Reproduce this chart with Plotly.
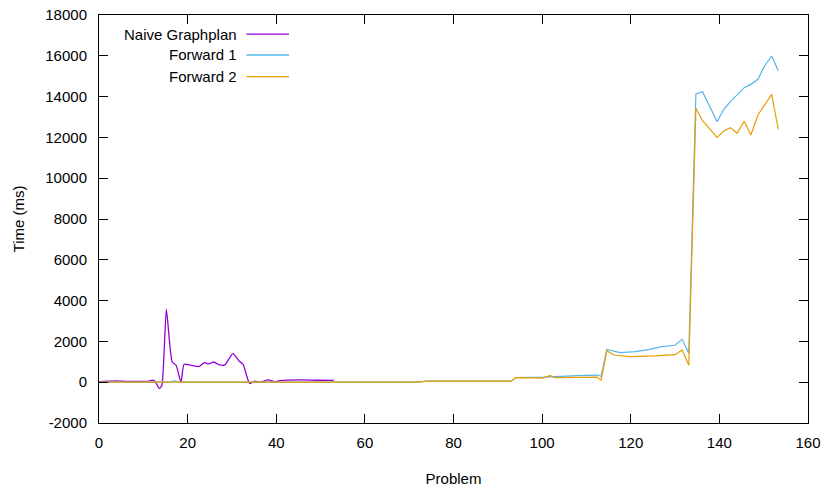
import plotly.graph_objects as go

# ---- data ----
naive_x = [0, 2, 4, 6, 8, 10, 11, 12, 12.6, 13.6, 14.2, 15.2, 16.5, 17.4, 18.5, 19.2, 20.8, 22.6,
           23.8, 24.8, 25.9, 27.2, 28.4, 30.2, 31.6, 32.5, 34.0, 35.2, 36.3, 38.2, 39.7, 40.8,
           45.4, 49, 53]
naive_y = [30, 50, 65, 45, 40, 40, 45, 100, 60, -310, -150, 3570, 990, 830, 0, 880, 830, 770,
           960, 900, 990, 850, 850, 1400, 1040, 880, -70, 50, 0, 110, 30, 80,
           110, 95, 90]

f1_x = [0, 16, 17, 18, 72, 74, 93, 94.1, 100.3, 101.8, 104, 108, 112.6, 113.3, 114.6, 117.6,
        121, 124, 127, 130, 131.6, 133.1, 134.7, 136.2, 139.5, 141, 142.5, 144, 145.6, 147.1,
        148.7, 150.2, 151.8, 153.3]
f1_y = [0, 0, 80, 0, 0, 50, 50, 230, 250, 270, 300, 320, 350, 280, 1610, 1450,
        1500, 1600, 1745, 1810, 2100, 1420, 14130, 14240, 12770, 13380, 13750, 14080, 14440, 14600,
        14850, 15500, 15990, 15270]

f2_x = [0, 72, 74, 93, 94.1, 100.3, 101.8, 102.8, 108, 112.4, 113.3, 114.6, 116.4, 120, 125.5,
        130, 131.6, 133.1, 134.7, 136.2, 139.5, 141, 142.5, 144, 145.6, 147.1, 148.7, 151.8,
        153.3]
f2_y = [0, 0, 50, 50, 220, 200, 330, 220, 240, 250, 100, 1530, 1320, 1250, 1290,
        1350, 1580, 830, 13430, 12820, 12000, 12310, 12480, 12200, 12790, 12120, 13100, 14110,
        12400]

series_names = ["Naive Graphplan", "Forward 1", "Forward 2"]
colors = ["#9400d3", "#56b4e9", "#e69f00"]

x_ticks = list(range(0, 161, 20))
y_ticks = list(range(-2000, 18001, 2000))

FONT = "Liberation Sans, Arial, sans-serif"

fig = go.Figure()
fig.add_trace(go.Scatter(x=naive_x, y=naive_y, mode="lines", name=series_names[0],
                         line=dict(color=colors[0], width=1.3, shape="spline", smoothing=0.5)))
fig.add_trace(go.Scatter(x=f1_x, y=f1_y, mode="lines", name=series_names[1],
                         line=dict(color=colors[1], width=1.2)))
fig.add_trace(go.Scatter(x=f2_x, y=f2_y, mode="lines", name=series_names[2],
                         line=dict(color=colors[2], width=1.2)))

# gnuplot-style legend: right-aligned text, sample line to the right
leg_y = [0.953, 0.902, 0.849]
for name, col, yy in zip(series_names, colors, leg_y):
    fig.add_annotation(x=0.197, y=yy, xref="paper", yref="paper", text=name,
                       showarrow=False, xanchor="right", yanchor="middle",
                       font=dict(family=FONT, size=15, color="#000"))
    fig.add_shape(type="line", xref="paper", yref="paper", x0=0.208, x1=0.268,
                  y0=yy, y1=yy, line=dict(color=col, width=1.3))

axis_common = dict(showline=True, linecolor="black", linewidth=1, mirror="ticks",
                   ticks="inside", ticklen=9, tickcolor="black", tickwidth=1,
                   showgrid=False, zeroline=False, automargin=False,
                   tickfont=dict(family=FONT, size=15, color="#000"))

fig.update_layout(
    width=826, height=494,
    margin=dict(l=99, r=18, t=15, b=71),
    paper_bgcolor="white", plot_bgcolor="white",
    showlegend=False,
    font=dict(family=FONT, size=15, color="#000"),
    xaxis=dict(range=[0, 160], tickvals=x_ticks, ticktext=[str(v) for v in x_ticks],
               title=dict(text="Problem", standoff=23, font=dict(family=FONT, size=15)),
               ticklabelstandoff=6, **axis_common),
    yaxis=dict(range=[-2000, 18000], tickvals=y_ticks, ticktext=[str(v) for v in y_ticks],
               title=dict(text="Time (ms)", standoff=17, font=dict(family=FONT, size=15)),
               ticklabelstandoff=8, **axis_common),
)

fig.write_html("out.html")
